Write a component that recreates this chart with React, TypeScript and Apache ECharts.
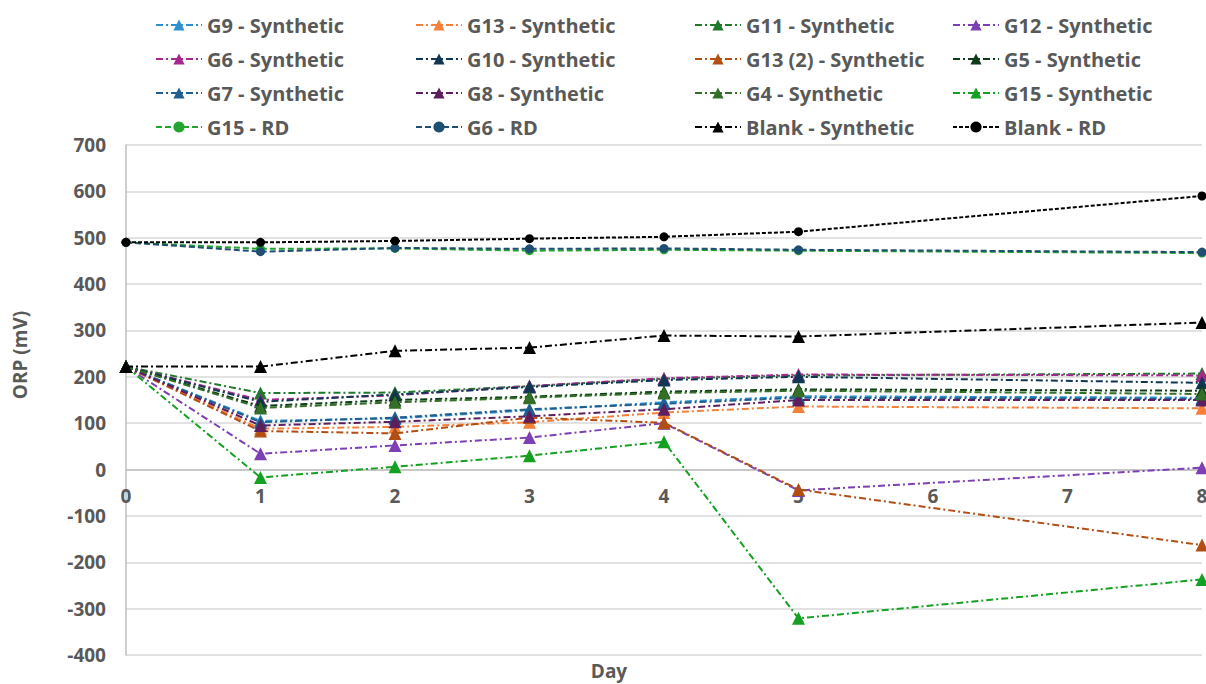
import React, { useEffect, useRef } from "react";
import * as echarts from "echarts";

const days = [0, 1, 2, 3, 4, 5, 8];

const seriesNames = [
  "G9 - Synthetic", "G13 - Synthetic", "G11 - Synthetic", "G12 - Synthetic",
  "G6 - Synthetic", "G10 - Synthetic", "G13 (2) - Synthetic", "G5 - Synthetic",
  "G7 - Synthetic", "G8 - Synthetic", "G4 - Synthetic", "G15 - Synthetic",
  "G15 - RD", "G6 - RD", "Blank - Synthetic", "Blank - RD",
];

const g9Syn = [222, 105, 110, 128, 145, 158, 155];
const g13Syn = [222, 88, 92, 102, 123, 136, 132];
const g11Syn = [222, 165, 166, 180, 196, 203, 207];
const g12Syn = [222, 34, 52, 69, 100, -45, 4];
const g6Syn = [222, 150, 160, 180, 197, 205, 203];
const g10Syn = [222, 146, 162, 178, 193, 200, 187];
const g13b = [222, 83, 78, 112, 101, -43, -163];
const g5Syn = [222, 137, 150, 157, 168, 173, 170];
const g7Syn = [222, 102, 112, 130, 142, 155, 152];
const g8Syn = [222, 95, 103, 115, 130, 150, 150];
const g4Syn = [222, 133, 145, 155, 165, 170, 163];
const g15Syn = [222, -17, 6, 30, 60, -321, -237];
const g15Rd = [490, 476, 477, 472, 474, 472, 467];
const g6Rd = [490, 470, 478, 476, 477, 474, 469];
const blankSyn = [222, 222, 256, 263, 289, 287, 317];
const blankRd = [490, 490, 493, 498, 502, 513, 590];

const values = [
  g9Syn, g13Syn, g11Syn, g12Syn, g6Syn, g10Syn, g13b, g5Syn,
  g7Syn, g8Syn, g4Syn, g15Syn, g15Rd, g6Rd, blankSyn, blankRd,
];

const colors = [
  "#2E90D1", "#F5803A", "#1E7A2A", "#7D3FB5", "#A3298F", "#103654", "#B24E14", "#0E3B18",
  "#1F5E8F", "#5C1E5C", "#336F27", "#14A020", "#22A52E", "#1F4E73", "#000000", "#000000",
];

const yTicks = { min: -400, max: 700, interval: 100 };
const xTicks = { min: 0, max: 8, interval: 1 };

export default function App() {
  const ref = useRef<HTMLDivElement>(null);
  useEffect(() => {
    const chart = echarts.init(ref.current!, null, { renderer: "svg" });
    const dashDot = [7, 3, 2, 3];
    const gridTop = 145;
    const gridBottom = 29;
    const plotH = 684 - gridTop - gridBottom;
    // move the x axis up to the y = 0 line
    const zeroOffset = -((0 - yTicks.min) / (yTicks.max - yTicks.min)) * plotH;
    const series = seriesNames.map((name, i) => {
      const isRd = name.endsWith("RD");
      const isBlankRd = name === "Blank - RD";
      return {
        name,
        type: "line",
        data: days.map((d, j) => [d, values[i][j]]),
        symbol: isRd ? "circle" : "triangle",
        symbolSize: isRd ? 9 : 13,
        itemStyle: { color: colors[i] },
        lineStyle: {
          color: colors[i],
          width: 2,
          type: isBlankRd ? [4, 2] : isRd ? [6, 3] : dashDot,
        },
        z: 2 + i,
      };
    });
    const legendCols = [
      { left: 150, names: [0, 4, 8, 12] },
      { left: 410, names: [1, 5, 9, 13] },
      { left: 689, names: [2, 6, 10, 14] },
      { left: 947, names: [3, 7, 11, 15] },
    ];
    const textColor = "#595959";
    chart.setOption({
      animation: false,
      grid: {
        left: 126,
        right: 4,
        top: gridTop,
        bottom: gridBottom,
        containLabel: false,
        outerBoundsMode: "none",
      },
      legend: legendCols.map((c) => ({
        orient: "vertical",
        left: c.left,
        top: 10,
        itemWidth: 46,
        itemHeight: 14,
        itemGap: 14,
        data: c.names.map((k) => seriesNames[k]),
        textStyle: {
          color: textColor,
          fontSize: 20,
          fontWeight: "bold",
          fontFamily: "Open Sans",
          lineHeight: 20,
        },
      })),
      xAxis: {
        type: "value",
        min: xTicks.min,
        max: xTicks.max,
        interval: xTicks.interval,
        position: "bottom",
        offset: zeroOffset,
        axisLine: { onZero: false, lineStyle: { color: "#BFBFBF", width: 1.5 } },
        axisTick: { show: false },
        splitLine: { show: false },
        axisLabel: {
          color: textColor,
          fontSize: 19,
          fontWeight: "bold",
          fontFamily: "Open Sans",
          margin: 17,
        },
      },
      yAxis: {
        type: "value",
        min: yTicks.min,
        max: yTicks.max,
        interval: yTicks.interval,
        axisLine: { show: true, onZero: false, lineStyle: { color: "#BFBFBF", width: 1.5 } },
        axisTick: { show: false },
        splitLine: { lineStyle: { color: "#D9D9D9", width: 1.5 } },
        axisLabel: {
          color: textColor,
          fontSize: 19,
          fontWeight: "bold",
          fontFamily: "Open Sans",
          margin: 20,
        },
      },
      graphic: [
        {
          type: "text",
          x: 20,
          y: 355,
          rotation: Math.PI / 2,
          style: {
            text: "ORP (mV)",
            fill: textColor,
            font: "bold 19px 'Open Sans'",
            align: "center",
            verticalAlign: "middle",
          },
        },
        {
          type: "text",
          x: 609,
          y: 671,
          style: {
            text: "Day",
            fill: textColor,
            font: "bold 19px 'Open Sans'",
            align: "center",
            verticalAlign: "middle",
          },
        },
      ],
      series,
    });
    return () => chart.dispose();
  }, []);
  return (
    <div
      ref={ref}
      style={{ position: "fixed", left: 0, top: 0, width: 1206, height: 684, background: "#fff" }}
    />
  );
}
